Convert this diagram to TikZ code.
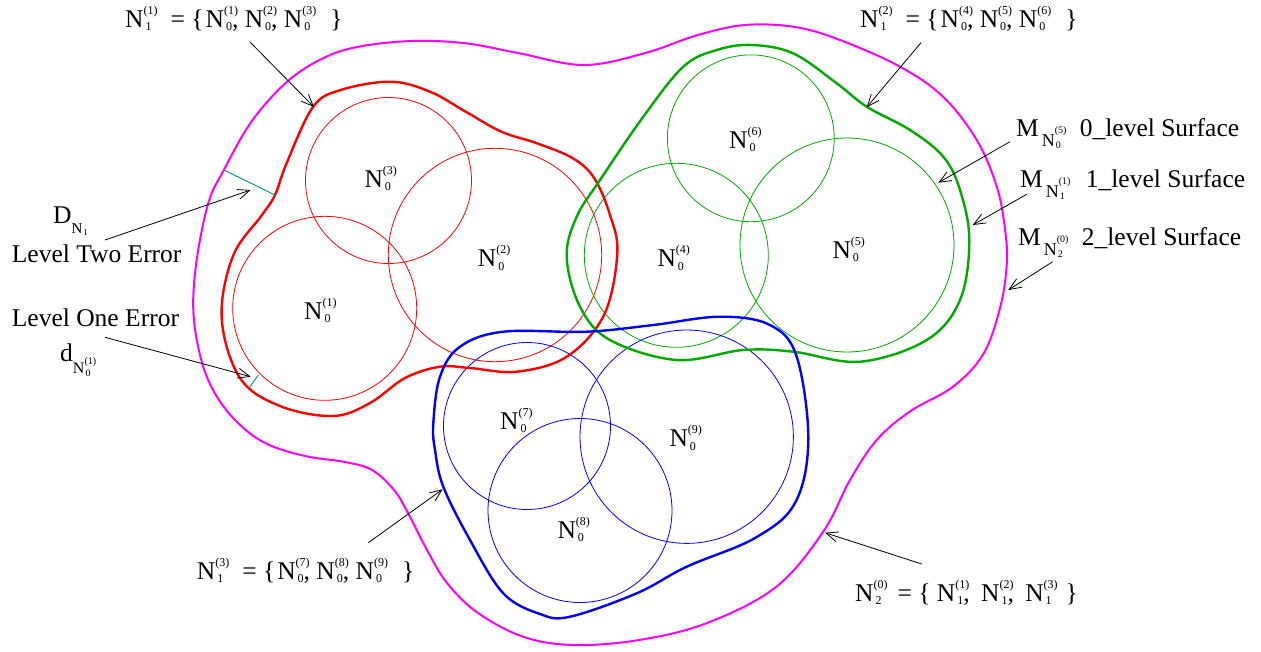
\documentclass[tikz,border=0pt]{standalone}
\usepackage{fontspec}
\setmainfont{Liberation Serif}
\usetikzlibrary{arrows.meta}

% colours of the three level sets
\definecolor{cRed}{RGB}{255,0,0}
\definecolor{cGreen}{RGB}{0,170,0}
\definecolor{cBlue}{RGB}{0,0,255}
\definecolor{cMag}{RGB}{255,0,255}
\definecolor{cTeal}{RGB}{0,140,140}

% N with stacked subscript / superscript (superscript allowed to overhang)
\newcommand{\Nl}[2]{N\makebox[0pt][l]{\raisebox{13pt}{\fontsize{12}{12}\selectfont#2}}\kern2pt\raisebox{-3.5pt}{\fontsize{12}{12}\selectfont#1}}
% M indexed by a small N with its own scripts
\newcommand{\Ml}[2]{M\kern3pt\raisebox{-10pt}{\fontsize{18}{18}\selectfont N}\makebox[0pt][l]{\raisebox{3pt}{\fontsize{10}{10}\selectfont#2}}\kern1pt\raisebox{-12pt}{\fontsize{10}{10}\selectfont#1}}

\begin{document}
\begin{tikzpicture}[x=1pt,y=-1pt,
  lbl/.style={anchor=base west,inner sep=0pt,font=\fontsize{25.5}{30}\selectfont},
  thin circ/.style={line width=0.8pt},
  hull/.style={line width=2.4pt},
  outer/.style={line width=2pt,cMag},
  pointer/.style={line width=0.8pt,-{Straight Barb[length=12pt,width=10pt,line width=0.8pt]}},
  gap/.style={line width=0.9pt,cTeal}]
\useasboundingbox (0,0) rectangle (1261,651);

% ---- level 0 neighbourhoods (thin circles) ----
\draw[thin circ,cRed] (388.5,180.5) circle[radius=83];
\draw[thin circ,cRed] (324.7,308.3) circle[radius=92];
\draw[thin circ,cRed] (495,255) circle[radius=106.7];

\draw[thin circ,cGreen] (750.8,138.3) circle[radius=83.4];
\draw[thin circ,cGreen] (676.3,255.3) circle[radius=92];
\draw[thin circ,cGreen] (847,245) circle[radius=107];

\draw[thin circ,cBlue] (527,426) circle[radius=83.5];
\draw[thin circ,cBlue] (580,510.5) circle[radius=92];
\draw[thin circ,cBlue] (686.7,436.7) circle[radius=106.7];

% ---- level 1 surfaces ----
\draw[hull,cRed] plot[smooth cycle,tension=0.6] coordinates {
  (340.7,90) (390.7,81.7) (430,91.7) (465.7,111.7) (501.4,131.7) (537,143.3)
  (572.9,158.3) (594.3,178.3) (610,215) (617.3,253.3) (604,315) (566.7,356.7)
  (516.7,371.7) (470,368) (440,366.7) (405,378) (370,403) (333,416)
  (280,406) (240,378) (221.7,318) (233,256) (262,215) (275,195)
  (286.7,163) (313,107)};

\draw[hull,cGreen] plot[smooth cycle,tension=0.6] coordinates {
  (716.7,50) (751.7,45) (793,53.3) (836.7,83.3) (866.7,106.7) (910,130)
  (943.3,156.7) (960,190) (969.3,240) (960,300) (926.7,340) (860,361.7)
  (793.3,351.7) (743.3,350) (676.7,360) (610,340) (580,306.7) (566.7,256.7)
  (576.7,216.7) (600,180) (643.3,116.7) (683.3,66.7)};

\draw[hull,cBlue] plot[smooth cycle,tension=0.6] coordinates {
  (460,346.7) (503.3,331.7) (586.7,331.7) (653.3,325) (720,316.7) (770,325)
  (796.7,356.7) (808.3,440) (795,503) (755,538) (686.7,566.7)
  (636.7,593.3) (570,616.7) (540,614) (503.3,593.3) (470,540) (443.3,486.7)
  (435,450) (433.3,423.3) (440,376.7)};

% ---- level 2 surface ----
\draw[outer] plot[smooth cycle,tension=0.6] coordinates {
  (222.9,171.7) (251.4,121.7) (287.1,81.7) (322.9,58.3) (358.6,46.7) (412.1,41)
  (465.7,43.3) (519.3,53.3) (583.6,65) (644.3,53.3) (697.9,35) (745,25)
  (795,27) (840,40) (900,66.7) (943.3,97) (976.7,140) (996.7,186.4) (1005,229)
  (1006.7,265) (1000,308) (983.3,354) (953.3,386.4) (910,411.4) (876.7,440)
  (850,480) (823,532) (776,587) (707,623) (639,640) (574,645) (524,637)
  (478,613) (447,583) (427,550) (408,513) (394,490) (372,470) (345,462)
  (305,456) (265,443) (235,420) (213,390) (200,355) (193.3,310) (196.7,260)
  (208.3,203)};

% ---- error gaps ----
\coordinate (Dout) at (224,170);
\coordinate (Din) at (275,195);
\coordinate (dout) at (250,386.7);
\coordinate (din) at (258.3,375);
\draw[gap] (Dout) -- (Din);
\draw[gap] (dout) -- (din);

% ---- labels inside the circles ----
\node[lbl] (c3) at (364.3,187.3) {\Nl{0}{(3)}};
\node[lbl] (c1) at (304,319.3) {\Nl{0}{(1)}};
\node[lbl] (c2) at (477.7,266.7) {\Nl{0}{(2)}};
\node[lbl] (c6) at (729,148.3) {\Nl{0}{(6)}};
\node[lbl] (c4) at (657.3,266.7) {\Nl{0}{(4)}};
\node[lbl] (c5) at (832.3,258.3) {\Nl{0}{(5)}};
\node[lbl] (c7) at (500,429.3) {\Nl{0}{(7)}};
\node[lbl] (c8) at (557.3,538.3) {\Nl{0}{(8)}};
\node[lbl] (c9) at (669.3,446.7) {\Nl{0}{(9)}};

% ---- set labels ----
\node[lbl] (s1) at (125,27) {\Nl{1}{(1)}\hspace{19pt}= \{\kern2pt\Nl{0}{(1)}, \Nl{0}{(2)}, \Nl{0}{(3)}\hspace{20pt}\}};
\node[lbl] (s2) at (860,27) {\Nl{1}{(2)}\hspace{19pt}= \{\kern2pt\Nl{0}{(4)}, \Nl{0}{(5)}, \Nl{0}{(6)}\hspace{20pt}\}};
\node[lbl] (s3) at (196.7,579) {\Nl{1}{(3)}\hspace{19pt}= \{\kern2pt\Nl{0}{(7)}, \Nl{0}{(8)}, \Nl{0}{(9)}\hspace{20pt}\}};
\node[lbl] (s0) at (855,601) {\Nl{2}{(0)}\hspace{16pt}= \{ \Nl{1}{(1)},\kern5pt{} \Nl{1}{(2)},\kern5pt{} \Nl{1}{(3)}\hspace{14pt}\}};

\node[lbl] (m0) at (1016,136) {\Ml{0}{(5)}\hspace{19pt}0\_level Surface};
\node[lbl] (m1) at (1020,187.3) {\Ml{1}{(1)}\hspace{21pt}1\_level Surface};
\node[lbl] (m2) at (1018,245.7) {\Ml{2}{(0)}\hspace{19pt}2\_level Surface};

\node[lbl] (eD) at (53,223.3) {D\raisebox{-10pt}{\fontsize{15}{15}\selectfont N}\kern1pt\raisebox{-12.5pt}{\fontsize{9}{9}\selectfont 1}};
\node[lbl] (e2) at (11.7,262.7) {Level Two Error};
\node[lbl] (e1) at (11.7,326) {Level One Error};
\node[lbl] (ed) at (60,361.7) {d\raisebox{-11.5pt}{\fontsize{16}{16}\selectfont N}\makebox[0pt][l]{\raisebox{-3pt}{\fontsize{10}{10}\selectfont(1)}}\kern1pt\raisebox{-15pt}{\fontsize{10}{10}\selectfont 0}};

% ---- pointers ----
\coordinate (t1) at (250,42);     \coordinate (h1) at (314,107);
\coordinate (t2) at (921,42.7);   \coordinate (h2) at (866.7,107.3);
\coordinate (t3) at (1010,141.7); \coordinate (h3) at (938.3,182.7);
\coordinate (t4) at (1026.7,194.3); \coordinate (h4) at (972.7,225);
\coordinate (t5) at (1052.7,261.7); \coordinate (h5) at (1008.3,290);
\coordinate (t6) at (105,240);    \coordinate (h6) at (250.7,190);
\coordinate (t7) at (105,337.3);  \coordinate (h7) at (250.7,376.7);
\coordinate (t8) at (368.3,542.7); \coordinate (h8) at (442.7,489.3);
\coordinate (t9) at (921.7,564);  \coordinate (h9) at (825,532.7);
\foreach \k in {1,...,9} \draw[pointer] (t\k) -- (h\k);
\end{tikzpicture}
\end{document}
